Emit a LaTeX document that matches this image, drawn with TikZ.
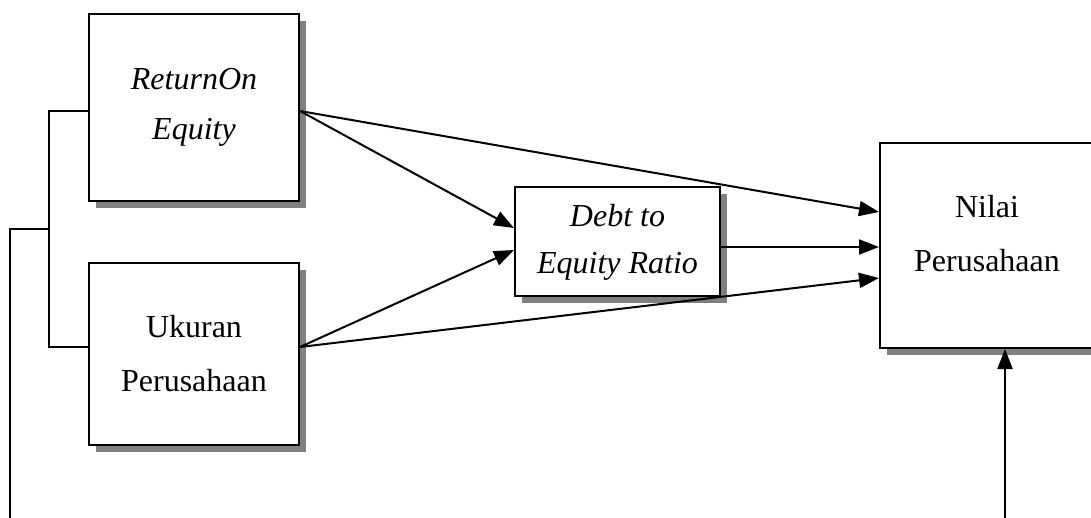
\documentclass[tikz,border=0pt]{standalone}
\usepackage{fontspec}
\setmainfont{Liberation Serif}
\usetikzlibrary{arrows.meta, shadows}

\begin{document}
\begin{tikzpicture}[x=0.5pt, y=-0.5pt, line width=1pt,
    kotak/.style={draw, fill=white, align=center, inner sep=0pt,
      font=\fontsize{16}{27}\selectfont,
      drop shadow={shadow xshift=3.5pt, shadow yshift=-3.5pt, fill=black!50, opacity=1}},
    panah/.style={-{Triangle[length=10pt,width=7.5pt]}}]
  % batas gambar
  \path[use as bounding box] (0,0) rectangle (1091,518);
  \clip (0,0) rectangle (1091,518);

  % kotak
  \node[kotak, minimum width=105pt, minimum height=93.5pt,
        font=\fontsize{16}{25}\selectfont\itshape] (roe) at (194,107.5) {ReturnOn\\Equity};
  \node[kotak, minimum width=105pt, minimum height=91pt] (uk) at (194,354) {Ukuran\\Perusahaan};
  \node[kotak, minimum width=102.5pt, minimum height=54.5pt, text depth=3pt,
        font=\fontsize{16}{23.5}\selectfont\itshape] (der) at (617.5,241.5) {Debt to\\Equity Ratio};
  \node[kotak, minimum width=107pt, minimum height=102.5pt, text depth=12pt] (nilai) at (987,245.5) {Nilai\\Perusahaan};

  % ujung garis di luar gambar
  \coordinate (jn) at (49,229);
  \coordinate (kiri) at (10,525);
  \coordinate (kanan) at (1005,525);

  % garis kiri
  \draw ([yshift=-1.75pt]roe.west) -| (jn) |- ([yshift=3.5pt]uk.west);
  \draw (jn) -- (jn -| kiri) -- (kiri);

  % panah
  \draw[panah] ([yshift=-1.75pt]roe.east) -- ([yshift=6.75pt]der.west);
  \draw[panah] ([yshift=-1.75pt]roe.east) -- ([yshift=16.75pt]nilai.west);
  \draw[panah] ([yshift=3.5pt]uk.east) -- ([yshift=-4.25pt]der.west);
  \draw[panah] ([yshift=3.5pt]uk.east) -- ([yshift=-16.25pt]nilai.west);
  \draw[panah] ([yshift=-2.75pt]der.east) -- ([yshift=-2.75pt]der.east -| nilai.west);
  \draw[panah] (kanan) -- (kanan |- nilai.south);
\end{tikzpicture}
\end{document}
